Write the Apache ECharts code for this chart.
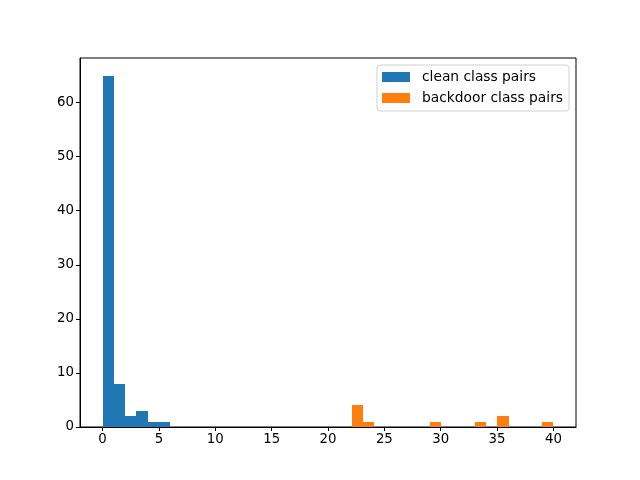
<!DOCTYPE html>
<html><head><meta charset="utf-8">
<script src="https://cdn.jsdelivr.net/npm/echarts@6/dist/echarts.min.js"></script>
<style>html,body{margin:0;padding:0;background:#fff}#c{width:640px;height:480px}</style>
</head><body><div id="c"></div>
<script>
// clean class pairs: bin edges and counts
const cleanEdges = [0, 1, 2, 3, 4, 5, 6];
const cleanCounts = [65, 8, 2, 3, 1, 1];
// backdoor class pairs: bin edges and counts
const backdoorEdges = [22.1, 23.09, 24.09, 25.08, 26.08, 27.07, 28.07, 29.06, 30.06, 31.05, 32.05, 33.04, 34.04, 35.03, 36.03, 37.02, 38.02, 39.01, 40.0];
const backdoorCounts = [4, 1, 0, 0, 0, 0, 0, 1, 0, 0, 0, 1, 0, 2, 0, 0, 0, 1];
const xTicks = [0, 5, 10, 15, 20, 25, 30, 35, 40];
const yTicks = [0, 10, 20, 30, 40, 50, 60];
const seriesNames = ['clean class pairs', 'backdoor class pairs'];

function toRects(edges, counts) {
  return counts.map((c, i) => [edges[i], edges[i + 1], c]);
}
function renderItem(params, api) {
  const p0 = api.coord([api.value(0), api.value(2)]);
  const p1 = api.coord([api.value(1), 0]);
  const x0 = Math.round(p0[0]), x1 = Math.round(p1[0]);
  const y0 = Math.round(p0[1]), y1 = Math.round(p1[1]);
  return {
    type: 'rect',
    shape: { x: x0, y: y0, width: x1 - x0, height: y1 - y0 },
    style: { fill: api.visual('color'), stroke: null, lineWidth: 0 }
  };
}
const font = 'DejaVu Sans';
const fs = 13.33;
const chart = echarts.init(document.getElementById('c'), null, { renderer: 'canvas' });
chart.setOption({
  animation: false,
  grid: { left: 80, right: 64, top: 58, bottom: 53, show: true, borderColor: '#000', borderWidth: 1, backgroundColor: 'transparent' },
  legend: {
    orient: 'vertical', right: 71, top: 65, padding: [5, 6, 6, 5],
    itemWidth: 28, itemHeight: 10, itemGap: 7,
    icon: 'rect',
    borderColor: '#d0d0d0', borderWidth: 1, borderRadius: 3,
    textStyle: { fontFamily: font, fontSize: 13.8, lineHeight: 14, color: '#000', padding: [0, 0, 0, 7] },
    data: seriesNames
  },
  xAxis: {
    type: 'value', min: -2, max: 42,
    splitLine: { show: false },
    axisLine: { show: true, onZero: false, lineStyle: { color: '#000', width: 1 } },
    axisTick: { show: true, inside: false, length: 4, lineStyle: { color: '#000' }, customValues: xTicks },
    axisLabel: { fontFamily: font, fontSize: fs, color: '#000', margin: 6, customValues: xTicks }
  },
  yAxis: {
    type: 'value', min: 0, max: 68.25,
    splitLine: { show: false },
    axisLine: { show: true, onZero: false, lineStyle: { color: '#000', width: 1 } },
    axisTick: { show: true, inside: false, length: 4, lineStyle: { color: '#000' }, customValues: yTicks },
    axisLabel: { fontFamily: font, fontSize: fs, color: '#000', margin: 6, customValues: yTicks }
  },
  series: [
    { name: seriesNames[0], type: 'custom', renderItem, itemStyle: { color: '#1f77b4' },
      encode: { x: [0, 1], y: 2 }, data: toRects(cleanEdges, cleanCounts) },
    { name: seriesNames[1], type: 'custom', renderItem, itemStyle: { color: '#ff7f0e' },
      encode: { x: [0, 1], y: 2 }, data: toRects(backdoorEdges, backdoorCounts) }
  ]
});
</script></body></html>
